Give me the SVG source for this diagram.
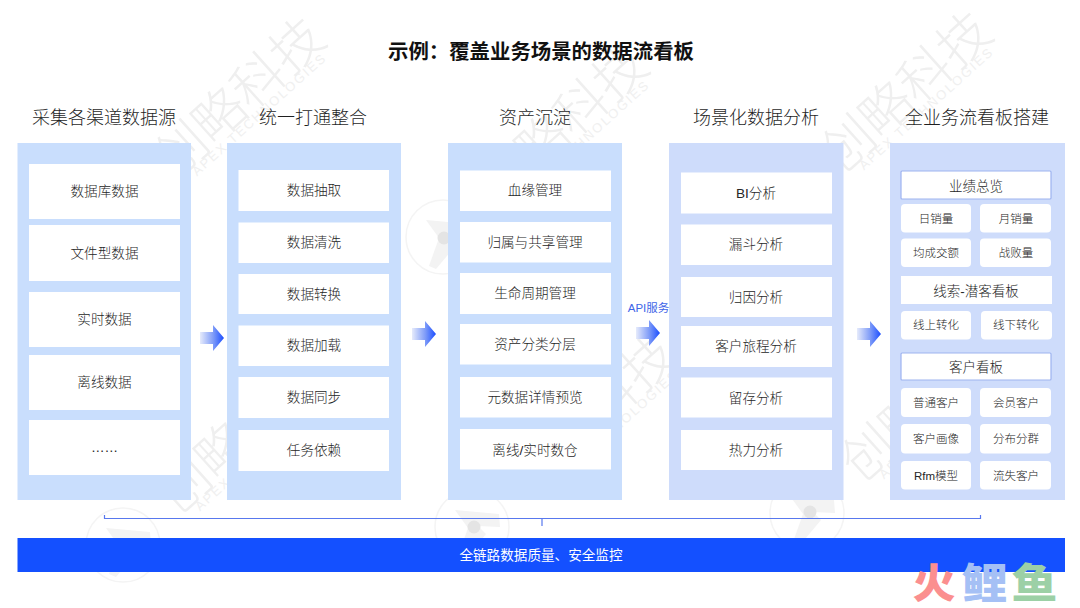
<svg xmlns="http://www.w3.org/2000/svg" width="1080" height="608" viewBox="0 0 1080 608">
<defs>
<linearGradient id="arrowGrad" x1="0" y1="0" x2="1" y2="0"><stop offset="0" stop-color="#e6ebfb"/><stop offset="0.55" stop-color="#7f9cf8"/><stop offset="1" stop-color="#1a4dff"/></linearGradient>
<g id="wm">
<g transform="rotate(-42)">
<text class="wmc" x="0" y="0">创略科技</text>
<text class="wme" x="20" y="12" textLength="174">APEX TECHNOLOGIES</text>
</g>
<circle cx="-54" cy="29" r="37" fill="none" stroke="#f4f4f4" stroke-width="1.500"/>
<path d="M-71 12L-27 16L-26 29L-48 28L-40 36L-61 61L-68 58L-58 30Z" fill="#f3f3f3"/>
</g>
<path id="arrow" d="M0 7H13V0L24 13L13 26V19H0Z" fill="url(#arrowGrad)"/>
</defs>
<style>
text{font-family:"Liberation Sans","Noto Sans CJK SC",sans-serif;text-anchor:middle}
.wmc{font-size:52px;font-weight:300;fill:#efefef;text-anchor:start}
.wme{font-size:13px;fill:#f0f0f0;text-anchor:start}
.dot{fill:#e4e4e4}
.title{font-size:20.400px;font-weight:700;fill:#111}
.head{font-size:18px;font-weight:300;fill:#1f1f1f}
.col{fill:#c9defd}
.col5{fill:#cedcfb}
.card{fill:#fff}
.label{font-size:13.600px;font-weight:300;fill:#262626}
.small{font-size:11.500px;font-weight:300;fill:#262626}
.hd{fill:#fff;stroke:#9db3f0;stroke-width:1.200}
.hdt{font-size:13.500px;font-weight:300;fill:#262626}
</style>
<rect width="1080" height="608" fill="#fff"/>
<g id="watermarks">
<use href="#wm" x="174" y="181"/>
<use href="#wm" x="497" y="208"/>
<use href="#wm" x="841" y="175"/>
<use href="#wm" x="177" y="516"/>
<use href="#wm" x="526" y="498"/>
<use href="#wm" x="861" y="484"/>
<circle class="dot" cx="444" cy="238" r="6.500"/>
<circle class="dot" cx="474" cy="527" r="6.500"/>
<circle class="dot" cx="810" cy="512" r="6.500"/>
</g>
<text class="title" x="541" y="59">示例：覆盖业务场景的数据流看板</text>
<g id="col1">
<text class="head" x="104" y="124">采集各渠道数据源</text>
<rect class="col" x="17.500" y="143" width="173.500" height="357"/>
<rect class="card" x="29" y="164" width="151" height="55"/><text class="label" x="104.500" y="196">数据库数据</text>
<rect class="card" x="29" y="225" width="151" height="56"/><text class="label" x="104.500" y="258">文件型数据</text>
<rect class="card" x="29" y="292" width="151" height="55"/><text class="label" x="104.500" y="324">实时数据</text>
<rect class="card" x="29" y="355" width="151" height="55"/><text class="label" x="104.500" y="387">离线数据</text>
<rect class="card" x="29" y="420" width="151" height="55"/><text class="label" x="104.500" y="452">……</text>
</g>
<g id="col2">
<text class="head" x="313" y="124">统一打通整合</text>
<rect class="col" x="227" y="143" width="174" height="357"/>
<rect class="card" x="238.500" y="170" width="150.500" height="41"/><text class="label" x="314" y="195">数据抽取</text>
<rect class="card" x="238.500" y="222.500" width="150.500" height="40.500"/><text class="label" x="314" y="247">数据清洗</text>
<rect class="card" x="238.500" y="274" width="150.500" height="40"/><text class="label" x="314" y="299">数据转换</text>
<rect class="card" x="238.500" y="325.500" width="150.500" height="40.500"/><text class="label" x="314" y="350">数据加载</text>
<rect class="card" x="238.500" y="377" width="150.500" height="41"/><text class="label" x="314" y="402">数据同步</text>
<rect class="card" x="238.500" y="430" width="150.500" height="41"/><text class="label" x="314" y="455">任务依赖</text>
</g>
<g id="col3">
<text class="head" x="535" y="124">资产沉淀</text>
<rect class="col" x="448" y="143" width="174" height="357"/>
<rect class="card" x="460" y="170.500" width="151" height="40.500"/><text class="label" x="535" y="195">血缘管理</text>
<rect class="card" x="460" y="222" width="151" height="40.500"/><text class="label" x="535" y="247">归属与共享管理</text>
<rect class="card" x="460" y="273" width="151" height="41"/><text class="label" x="535" y="298">生命周期管理</text>
<rect class="card" x="460" y="324" width="151" height="40.500"/><text class="label" x="535" y="348.500">资产分类分层</text>
<rect class="card" x="460" y="377" width="151" height="40.500"/><text class="label" x="535" y="401.500">元数据详情预览</text>
<rect class="card" x="460" y="429" width="151" height="40.500"/><text class="label" x="535" y="455">离线/实时数仓</text>
</g>
<g id="col4">
<text class="head" x="756" y="124">场景化数据分析</text>
<rect class="col5" x="669" y="143" width="174.500" height="357"/>
<rect class="card" x="681" y="172.500" width="151" height="41"/><text class="label" x="756" y="198">BI分析</text>
<rect class="card" x="681" y="224.500" width="151" height="40.500"/><text class="label" x="756" y="249">漏斗分析</text>
<rect class="card" x="681" y="277" width="151" height="40"/><text class="label" x="756" y="302">归因分析</text>
<rect class="card" x="681" y="326" width="151" height="41"/><text class="label" x="756" y="351">客户旅程分析</text>
<rect class="card" x="681" y="377.500" width="151" height="40"/><text class="label" x="756" y="402.500">留存分析</text>
<rect class="card" x="681" y="430" width="151" height="40"/><text class="label" x="756" y="454.500">热力分析</text>
</g>
<g id="col5">
<text class="head" x="977" y="124">全业务流看板搭建</text>
<rect class="col5" x="890" y="143" width="175" height="357"/>
<rect class="hd" x="901" y="171" width="150" height="28" rx="1"/><text class="hdt" x="976" y="191">业绩总览</text>
<rect class="card" x="901" y="204" width="70" height="28.500" rx="4"/><text class="small" x="936" y="222.500">日销量</text>
<rect class="card" x="980" y="204" width="71" height="28.500" rx="4"/><text class="small" x="1016" y="222.500">月销量</text>
<rect class="card" x="901" y="238.500" width="70" height="28.500" rx="4"/><text class="small" x="936" y="257">均成交额</text>
<rect class="card" x="980" y="238.500" width="71" height="28.500" rx="4"/><text class="small" x="1016" y="257">战败量</text>
<rect class="card" x="901" y="276" width="151" height="28"/><text class="hdt" x="976" y="296">线索-潜客看板</text>
<rect class="card" x="901" y="311" width="70" height="28.500" rx="4"/><text class="small" x="936" y="329">线上转化</text>
<rect class="card" x="981" y="311" width="71" height="28.500" rx="4"/><text class="small" x="1016" y="329">线下转化</text>
<rect class="hd" x="901" y="353" width="150" height="27" rx="1"/><text class="hdt" x="976" y="372">客户看板</text>
<rect class="card" x="901" y="388" width="70" height="29" rx="4"/><text class="small" x="936" y="406.500">普通客户</text>
<rect class="card" x="980" y="388" width="71" height="29" rx="4"/><text class="small" x="1016" y="406.500">会员客户</text>
<rect class="card" x="901" y="424" width="70" height="29.500" rx="4"/><text class="small" x="936" y="443">客户画像</text>
<rect class="card" x="980" y="424" width="71" height="29.500" rx="4"/><text class="small" x="1016" y="443">分布分群</text>
<rect class="card" x="901" y="461" width="70" height="28.500" rx="4"/><text class="small" x="936" y="480">Rfm模型</text>
<rect class="card" x="980" y="461" width="71" height="28.500" rx="4"/><text class="small" x="1016" y="480">流失客户</text>
</g>
<g id="connectors">
<use href="#arrow" x="200" y="325"/>
<use href="#arrow" x="412" y="321"/>
<use href="#arrow" x="636" y="320"/>
<use href="#arrow" x="857" y="321"/>
<text x="648.500" y="312" font-size="11.500" fill="#3f66e8">API服务</text>
<path d="M104.500 515V518.500H980.500V515M542 518.500V526" fill="none" stroke="#5878ee" stroke-width="1.200"/>
</g>
<g id="bar">
<rect x="17.500" y="538" width="1047.500" height="34" fill="#1450ff"/>
<text x="541" y="560" font-size="13.600" fill="#fff">全链路数据质量、安全监控</text>
</g>
<g id="logo" font-weight="900" font-size="41">
<text x="934" y="598" fill="#fb8f8f" textLength="43" lengthAdjust="spacingAndGlyphs">火</text>
<text x="984.500" y="598" fill="#a5c0f5" textLength="46" lengthAdjust="spacingAndGlyphs">鲤</text>
<text x="1034.500" y="598" fill="#9cd0a6" textLength="46" lengthAdjust="spacingAndGlyphs">鱼</text>
</g>
</svg>
